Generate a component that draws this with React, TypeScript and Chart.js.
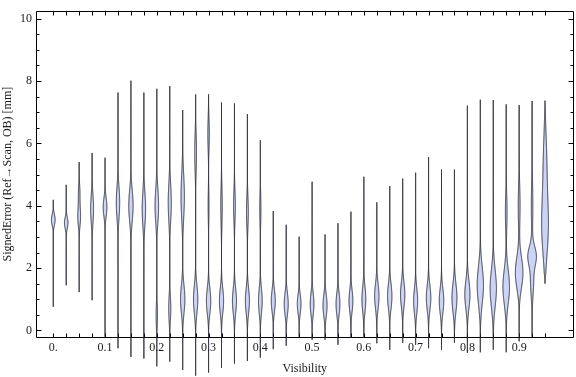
import { useEffect, useRef } from "react";
import { Chart, registerables } from "chart.js";

Chart.register(...registerables);

// ---- data ----
const visibility = [
  0, 0.025, 0.05, 0.075, 0.1, 0.125, 0.15, 0.175, 0.2, 0.225,
  0.25, 0.275, 0.3, 0.325, 0.35, 0.375, 0.4, 0.425, 0.45, 0.475,
  0.5, 0.525, 0.55, 0.575, 0.6, 0.625, 0.65, 0.675, 0.7, 0.725,
  0.75, 0.775, 0.8, 0.825, 0.85, 0.875, 0.9, 0.925, 0.95,
];

const minError = [
  0.76, 1.45, 1.23, 0.97, -0.2, -0.57, -0.85, -0.9, -1.15, -1.0,
  -1.27, -1.45, -1.35, -1.2, -1.06, -0.98, -0.87, -0.6, -0.49, -0.2,
  -0.3, -0.3, -0.46, -0.24, -0.24, -0.41, -0.62, -0.4, -0.46, -0.57,
  -0.62, -0.4, -0.72, -0.7, -0.62, -0.7, -0.35, -0.2, 1.5,
];

const maxError = [
  4.19, 4.67, 5.4, 5.69, 5.54, 7.63, 8.01, 7.63, 7.75, 7.84,
  7.07, 7.57, 7.57, 7.31, 7.28, 6.94, 6.1, 3.83, 3.39, 3.01,
  4.77, 3.08, 3.44, 3.81, 4.93, 4.11, 4.63, 4.87, 5.06, 5.56,
  5.16, 5.16, 7.21, 7.4, 7.39, 7.25, 7.23, 7.36, 7.37,
];

// density modes per violin: [centre (mm), spread (mm), peak density]
const densityModes: number[][][] = [
  [[3.55, 0.18, 2.4]],
  [[3.45, 0.18, 2.3]],
  [[3.65, 0.3, 1.8], [4.4, 0.3, 1.0]],
  [[3.9, 0.45, 1.9]],
  [[3.95, 0.3, 2.4]],
  [[4.1, 0.5, 2.2]],
  [[4.0, 0.5, 2.8]],
  [[3.9, 0.55, 2.2]],
  [[4.0, 0.55, 2.3], [0.5, 0.4, 0.9]],
  [[4.1, 0.6, 2.0], [0.7, 0.4, 1.4]],
  [[4.3, 0.7, 2.2], [1.0, 0.45, 2.8]],
  [[5.7, 0.6, 1.2], [1.0, 0.45, 2.8]],
  [[6.3, 0.5, 1.0], [4.0, 0.5, 0.6], [0.95, 0.4, 2.8]],
  [[4.0, 0.6, 1.0], [0.95, 0.4, 2.7]],
  [[4.0, 0.5, 1.2], [0.95, 0.4, 2.6]],
  [[3.8, 0.5, 1.2], [0.95, 0.4, 2.6]],
  [[3.9, 0.5, 0.8], [0.95, 0.4, 2.4]],
  [[0.95, 0.35, 2.6]],
  [[0.85, 0.35, 2.6]],
  [[0.85, 0.3, 2.4]],
  [[0.85, 0.35, 2.4]],
  [[0.8, 0.35, 2.6]],
  [[0.85, 0.35, 2.5]],
  [[0.95, 0.35, 2.5]],
  [[1.0, 0.4, 2.5]],
  [[1.1, 0.4, 2.8]],
  [[1.1, 0.4, 2.8]],
  [[1.15, 0.4, 2.8]],
  [[0.95, 0.4, 2.6]],
  [[1.05, 0.4, 2.9]],
  [[0.95, 0.4, 2.9]],
  [[1.05, 0.45, 3.2]],
  [[1.15, 0.45, 3.3]],
  [[1.45, 0.6, 4.0]],
  [[1.35, 0.6, 4.0]],
  [[1.4, 0.55, 4.2], [3.8, 0.6, 1.1]],
  [[1.85, 0.5, 4.8], [4.0, 0.7, 1.2]],
  [[2.4, 0.3, 4.8], [1.6, 0.5, 2.0], [4.0, 0.8, 1.0]],
  [[3.3, 0.9, 4.0], [5.3, 1.0, 2.2]],
];

const xTickValues = [0, 0.1, 0.2, 0.3, 0.4, 0.5, 0.6, 0.7, 0.8, 0.9];
const xTickLabels = ["0.", "0.1", "0.2", "0.3", "0.4", "0.5", "0.6", "0.7", "0.8", "0.9"];
const yTickValues = [0, 2, 4, 6, 8, 10];
const yTickLabels = ["0", "2", "4", "6", "8", "10"];

// ---- styles ----
const FONT = "'Liberation Serif', 'Times New Roman', serif";
const TEXT_COLOR = "#1a1a1a";
const FILL = "#cbd3f6";
const STROKE = "rgba(35,35,45,0.9)";
const PX_PER_DENSITY = 0.8;
const TAIL = 0.45;
const TAPER = 0.35;

const violinPlugin = {
  id: "violins",
  afterDraw(chart: any) {
    const { ctx, scales, chartArea } = chart;
    const xs = scales.x;
    const ys = scales.y;
    ctx.save();

    // frame
    const L = Math.round(chartArea.left) + 0.5;
    const R = Math.round(chartArea.right) - 0.5;
    const T = Math.round(chartArea.top) + 0.5;
    const B = Math.round(chartArea.bottom) + 0.5;
    ctx.strokeStyle = "#000";
    ctx.lineWidth = 1;
    ctx.beginPath();
    ctx.rect(L, T, R - L, B - T);
    ctx.stroke();

    // x ticks (top & bottom) at each category
    ctx.beginPath();
    for (const v of visibility) {
      const px = Math.round(xs.getPixelForValue(v)) + 0.5;
      ctx.moveTo(px, B);
      ctx.lineTo(px, B - 4);
      ctx.moveTo(px, T);
      ctx.lineTo(px, T + 4);
    }
    // y ticks left & right
    for (let i = 0; i <= 20; i++) {
      const v = i * 0.5;
      const py = Math.round(ys.getPixelForValue(v)) + 0.5;
      const len = i % 4 === 0 ? 5 : 3;
      ctx.moveTo(L, py);
      ctx.lineTo(L + len, py);
      ctx.moveTo(R, py);
      ctx.lineTo(R - len, py);
    }
    ctx.stroke();

    // violins
    for (let k = 0; k < visibility.length; k++) {
      const cx = xs.getPixelForValue(visibility[k]);
      const lo = minError[k];
      const hi = maxError[k];
      const modes = densityModes[k];
      const yTop = ys.getPixelForValue(hi);
      const yBot = ys.getPixelForValue(lo);
      const n = Math.max(10, Math.ceil((yBot - yTop) * 2));
      const pts: [number, number][] = [];
      for (let i = 0; i <= n; i++) {
        const v = lo + ((hi - lo) * i) / n;
        let d = TAIL;
        for (const [c, s, h] of modes) {
          const z = (v - c) / s;
          d += h * PX_PER_DENSITY * Math.exp(-0.5 * z * z);
        }
        const edge = Math.min(v - lo, hi - v);
        const taper = Math.min(1, Math.max(0, edge) / TAPER);
        const hw = Math.max(0, d * Math.sqrt(taper) - 0.5);
        pts.push([ys.getPixelForValue(v), hw]);
      }
      ctx.beginPath();
      for (let i = 0; i < pts.length; i++) {
        const [py, hw] = pts[i];
        if (i === 0) ctx.moveTo(cx + hw, py);
        else ctx.lineTo(cx + hw, py);
      }
      for (let i = pts.length - 1; i >= 0; i--) {
        const [py, hw] = pts[i];
        ctx.lineTo(cx - hw, py);
      }
      ctx.closePath();
      ctx.fillStyle = FILL;
      ctx.fill();
      ctx.strokeStyle = STROKE;
      ctx.lineWidth = 1;
      ctx.lineJoin = "round";
      ctx.stroke();
    }
    ctx.restore();
  },
};

export default function App() {
  const ref = useRef<HTMLCanvasElement>(null);
  useEffect(() => {
    document.body.style.margin = "0";
    const canvas = ref.current!;
    const chart = new Chart(canvas, {
      type: "scatter",
      data: {
        datasets: [
          {
            data: visibility.map((v, i) => ({ x: v, y: (minError[i] + maxError[i]) / 2 })),
            pointRadius: 0,
            showLine: false,
          },
        ],
      },
      options: {
        responsive: false,
        animation: false,
        devicePixelRatio: 1,
        layout: { padding: { top: 4, right: 2.5, left: 0, bottom: 0 } },
        plugins: { legend: { display: false }, tooltip: { enabled: false } },
        scales: {
          x: {
            type: "linear",
            min: -0.0334,
            max: 1.005,
            afterBuildTicks: (s: any) => {
              s.ticks = xTickValues.map((v) => ({ value: v }));
            },
            afterFit: (s: any) => {
              s.height = 40;
            },
            grid: { display: false, drawTicks: false },
            border: { display: false },
            ticks: {
              callback: (_v: any, i: number) => xTickLabels[i],
              autoSkip: false,
              maxRotation: 0,
              padding: 4,
              color: TEXT_COLOR,
              font: { family: FONT, size: 12 },
            },
            title: {
              display: true,
              text: "Visibility",
              color: TEXT_COLOR,
              font: { family: FONT, size: 12 },
              padding: { top: 0, bottom: 1 },
            },
          },
          y: {
            type: "linear",
            min: -0.21,
            max: 10.24,
            afterBuildTicks: (s: any) => {
              s.ticks = yTickValues.map((v) => ({ value: v }));
            },
            afterFit: (s: any) => {
              s.width = 36;
            },
            grid: { display: false, drawTicks: false },
            border: { display: false },
            ticks: {
              callback: (_v: any, i: number) => yTickLabels[i],
              autoSkip: false,
              padding: 4,
              color: TEXT_COLOR,
              font: { family: FONT, size: 12 },
            },
            title: {
              display: true,
              text: "SignedError (Ref\u2192Scan, OB) [mm]",
              color: TEXT_COLOR,
              font: { family: FONT, size: 12 },
              padding: { top: 1, bottom: 0 },
            },
          },
        },
      },
      plugins: [violinPlugin],
    });
    return () => chart.destroy();
  }, []);
  return (
    <div style={{ width: 576, height: 377 }}>
      <canvas ref={ref} width={576} height={377} style={{ display: "block" }} />
    </div>
  );
}
